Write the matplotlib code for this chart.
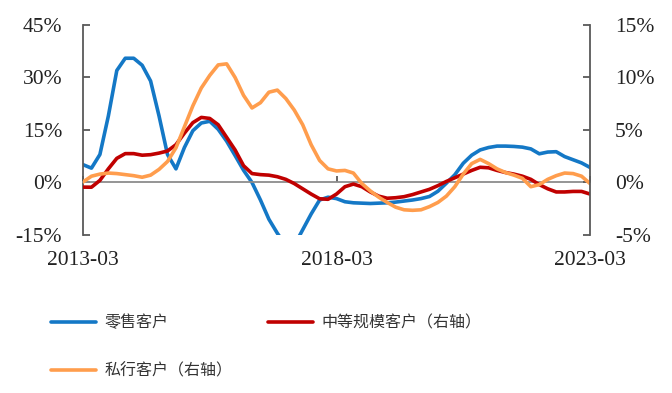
import matplotlib
matplotlib.use('Agg')
import matplotlib.pyplot as plt
import numpy as np

# bimonthly readings, 2013-03 .. 2023-03
months = np.arange(0, 121, 2)
retail = [5.1, 4.1, 8.0, 19.0, 32.0, 35.5, 35.5, 33.5, 29.0, 19.0,
          8.0, 3.9, 10.0, 14.8, 17.0, 17.5, 15.2, 11.8, 7.7, 3.5,
          0.0, -5.0, -10.5, -14.5, -18.0, -18.0, -13.5, -9.0, -5.0, -4.2,
          -4.6, -5.5, -5.8, -5.9, -6.0, -5.9, -5.8, -5.6, -5.3, -5.0,
          -4.6, -4.0, -2.5, -0.2, 2.2, 5.5, 7.8, 9.3, 10.0, 10.4,
          10.4, 10.3, 10.1, 9.6, 8.2, 8.7, 8.8, 7.4, 6.5, 5.6,
          4.3]
mid_size = [-0.44, -0.45, 0.2, 1.3, 2.3, 2.75, 2.75, 2.6, 2.65, 2.8,
            3.0, 3.6, 4.7, 5.7, 6.2, 6.1, 5.5, 4.3, 3.1, 1.6,
            0.85, 0.75, 0.7, 0.55, 0.3, -0.1, -0.6, -1.1, -1.55, -1.6,
            -1.1, -0.4, -0.15, -0.4, -0.9, -1.3, -1.5, -1.45, -1.35, -1.15,
            -0.9, -0.65, -0.3, 0.1, 0.45, 0.8, 1.15, 1.45, 1.4, 1.15,
            0.95, 0.8, 0.6, 0.3, -0.2, -0.6, -0.9, -0.9, -0.85, -0.85,
            -1.1]
private = [0.05, 0.6, 0.8, 0.9, 0.85, 0.75, 0.65, 0.5, 0.7, 1.25,
           2.0, 3.3, 5.3, 7.3, 9.0, 10.2, 11.2, 11.3, 10.0, 8.3,
           7.1, 7.6, 8.6, 8.8, 8.0, 6.9, 5.5, 3.6, 2.1, 1.3,
           1.1, 1.15, 0.9, -0.1, -0.8, -1.4, -1.9, -2.35, -2.6, -2.65,
           -2.6, -2.3, -1.9, -1.3, -0.4, 0.8, 1.8, 2.2, 1.8, 1.3,
           0.95, 0.7, 0.4, -0.4, -0.2, 0.3, 0.65, 0.9, 0.85, 0.6,
           -0.1]

x_ticks = [0, 60, 120]
x_labels = ['2013-03', '2018-03', '2023-03']
left_ticks = [-15, 0, 15, 30, 45]
right_ticks = [-5, 0, 5, 10, 15]
names = ['零售客户', '中等规模客户（右轴）', '私行客户（右轴）']

blue, red, orange = '#1478C6', '#C00000', '#FF9D4D'
spine_c = '#595959'
serif = 'Liberation Serif'

fig = plt.figure(figsize=(6.72, 3.93), dpi=100)
ax = fig.add_axes([83 / 672, 1 - 235 / 393, (590 - 83) / 672, 210 / 393])
ax2 = ax.twinx()

style = dict(lw=2.6, solid_capstyle='round', solid_joinstyle='round')
l1, = ax.plot(months, retail, color=blue, **style)
l2, = ax2.plot(months, mid_size, color=red, **style)
l3, = ax2.plot(months, private, color=orange, **style)

ax.set_xlim(0, 120)
ax.set_ylim(-15, 45)
ax2.set_ylim(-5, 15)

ax.set_yticks(left_ticks)
ax.set_yticklabels([f'{v}%' for v in left_ticks])
ax2.set_yticks(right_ticks)
ax2.set_yticklabels([f'{v}%' for v in right_ticks])
ax.set_xticks(x_ticks)
ax.set_xticklabels(x_labels)

for a in (ax, ax2):
    a.spines['top'].set_visible(False)
    a.patch.set_visible(False)
    for s in ('left', 'right', 'bottom'):
        a.spines[s].set_color(spine_c)
        a.spines[s].set_linewidth(1.3)

ax.spines['right'].set_visible(False)
ax2.spines['left'].set_visible(False)
ax2.spines['bottom'].set_visible(False)
ax.spines['bottom'].set_position(('data', 0))
ax.spines['bottom'].set_color('#8c8c8c')

ax.tick_params(axis='y', direction='in', length=5, width=1.3, color=spine_c,
               pad=15, labelsize=15.5, labelcolor='#222222')
ax2.tick_params(axis='y', direction='in', length=5, width=1.3, color=spine_c,
                pad=18, labelsize=15.5, labelcolor='#222222')
ax.tick_params(axis='x', direction='in', length=4, width=1.3, color=spine_c,
               pad=49, labelsize=15.5, labelcolor='#222222')
for t in ax.get_yticklabels() + ax2.get_yticklabels() + ax.get_xticklabels():
    t.set_fontfamily(serif)

leg = fig.legend([l1, l3, l2], [names[0], names[2], names[1]], ncol=2,
                 loc='upper left', bbox_to_anchor=(37 / 672, 1 - 300 / 393),
                 frameon=False, handlelength=2.8, handletextpad=0.55,
                 columnspacing=2.2, labelspacing=1.95,
                 prop={'family': ['Noto Sans CJK SC', 'DejaVu Sans'], 'size': 11.5})
for t in leg.get_texts():
    t.set_color('#333333')

fig.savefig('out.png', dpi=100)
